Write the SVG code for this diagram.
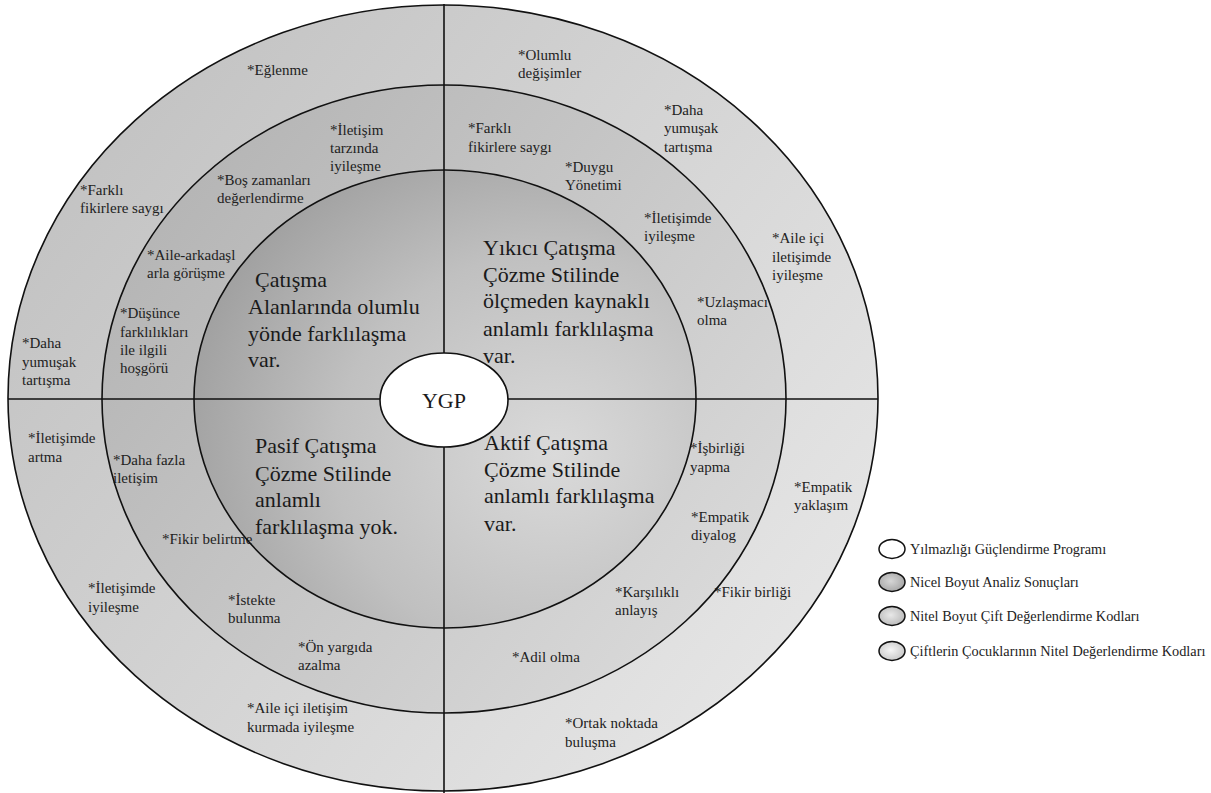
<svg xmlns="http://www.w3.org/2000/svg" width="1211" height="793" viewBox="0 0 1211 793">
<style>
.s{font-family:"Liberation Serif","Times New Roman",serif;font-size:15px;fill:#222}
.b{font-family:"Liberation Serif","Times New Roman",serif;font-size:22px;fill:#1a1a1a}
.lg{font-family:"Liberation Serif","Times New Roman",serif;font-size:14.3px;fill:#222}
.ln{stroke:#111;stroke-width:1.6;fill:none}
</style>
<defs>
<linearGradient id="gOuter" x1="0" y1="0.15" x2="1" y2="0.85">
<stop offset="0" stop-color="#c0c0c0"/><stop offset="1" stop-color="#e8e8e8"/>
</linearGradient>
<linearGradient id="gMid" x1="0" y1="0.15" x2="1" y2="0.85">
<stop offset="0" stop-color="#b2b2b2"/><stop offset="1" stop-color="#dcdcdc"/>
</linearGradient>
<radialGradient id="gInner" cx="0.72" cy="0.62" r="0.8" fx="0.72" fy="0.62">
<stop offset="0" stop-color="#dadada"/><stop offset="0.55" stop-color="#c0c0c0"/><stop offset="1" stop-color="#9c9c9c"/>
</radialGradient>
<radialGradient id="gL2" cx="0.45" cy="0.45" r="0.6"><stop offset="0" stop-color="#d6d6d6"/><stop offset="1" stop-color="#a4a4a4"/></radialGradient>
<radialGradient id="gL3" cx="0.45" cy="0.45" r="0.6"><stop offset="0" stop-color="#e8e8e8"/><stop offset="1" stop-color="#b8b8b8"/></radialGradient>
<radialGradient id="gL4" cx="0.45" cy="0.45" r="0.6"><stop offset="0" stop-color="#f6f6f6"/><stop offset="1" stop-color="#c6c6c6"/></radialGradient>
</defs>

<g id="outer-ring"><ellipse cx="443" cy="398" rx="435" ry="393" fill="url(#gOuter)"/></g>
<g id="middle-ring"><ellipse cx="444" cy="399" rx="342" ry="314" fill="url(#gMid)"/></g>
<g id="inner-disk"><ellipse cx="445" cy="399" rx="251" ry="229" fill="url(#gInner)"/></g>

<g id="labels-top-left">
<text class="s" x="247" y="75">*Eğlenme</text>
<text class="s" x="330" y="135">*İletişim</text>
<text class="s" x="330" y="153">tarzında</text>
<text class="s" x="330" y="171">iyileşme</text>
<text class="s" x="217" y="185">*Boş zamanları</text>
<text class="s" x="217" y="203">değerlendirme</text>
<text class="s" x="80" y="195">*Farklı</text>
<text class="s" x="80" y="213">fikirlere saygı</text>
<text class="s" x="147" y="260">*Aile-arkadaşl</text>
<text class="s" x="147" y="278">arla görüşme</text>
<text class="s" x="120" y="318">*Düşünce</text>
<text class="s" x="120" y="337">farklılıkları</text>
<text class="s" x="120" y="355">ile ilgili</text>
<text class="s" x="120" y="373">hoşgörü</text>
<text class="s" x="22" y="348">*Daha</text>
<text class="s" x="22" y="367">yumuşak</text>
<text class="s" x="22" y="385">tartışma</text>
<text class="b" x="255" y="287">Çatışma</text>
<text class="b" x="248" y="314">Alanlarında olumlu</text>
<text class="b" x="248" y="341">yönde farklılaşma</text>
<text class="b" x="248" y="367">var.</text>
</g>

<g id="labels-top-right">
<text class="s" x="518" y="60">*Olumlu</text>
<text class="s" x="518" y="78">değişimler</text>
<text class="s" x="664" y="115">*Daha</text>
<text class="s" x="664" y="133">yumuşak</text>
<text class="s" x="664" y="152">tartışma</text>
<text class="s" x="468" y="133">*Farklı</text>
<text class="s" x="468" y="152">fikirlere saygı</text>
<text class="s" x="565" y="172">*Duygu</text>
<text class="s" x="565" y="190">Yönetimi</text>
<text class="s" x="644" y="223">*İletişimde</text>
<text class="s" x="644" y="241">iyileşme</text>
<text class="s" x="772" y="243">*Aile içi</text>
<text class="s" x="772" y="262">iletişimde</text>
<text class="s" x="772" y="280">iyileşme</text>
<text class="s" x="697" y="307">*Uzlaşmacı</text>
<text class="s" x="697" y="325">olma</text>
<text class="b" x="483" y="255">Yıkıcı Çatışma</text>
<text class="b" x="483" y="282">Çözme Stilinde</text>
<text class="b" x="483" y="308">ölçmeden kaynaklı</text>
<text class="b" x="483" y="336">anlamlı farklılaşma</text>
<text class="b" x="483" y="363">var.</text>
</g>

<g id="labels-bottom-left">
<text class="s" x="28" y="443">*İletişimde</text>
<text class="s" x="28" y="462">artma</text>
<text class="s" x="113" y="465">*Daha fazla</text>
<text class="s" x="113" y="483">iletişim</text>
<text class="s" x="162" y="544">*Fikir belirtme</text>
<text class="s" x="88" y="593">*İletişimde</text>
<text class="s" x="88" y="612">iyileşme</text>
<text class="s" x="228" y="605">*İstekte</text>
<text class="s" x="228" y="623">bulunma</text>
<text class="s" x="298" y="652">*Ön yargıda</text>
<text class="s" x="298" y="670">azalma</text>
<text class="s" x="247" y="713">*Aile içi iletişim</text>
<text class="s" x="247" y="732">kurmada iyileşme</text>
<text class="b" x="255" y="453">Pasif Çatışma</text>
<text class="b" x="255" y="481">Çözme Stilinde</text>
<text class="b" x="255" y="507">anlamlı</text>
<text class="b" x="255" y="534">farklılaşma yok.</text>
</g>

<g id="labels-bottom-right">
<text class="s" x="690" y="453">*İşbirliği</text>
<text class="s" x="690" y="472">yapma</text>
<text class="s" x="794" y="492">*Empatik</text>
<text class="s" x="794" y="510">yaklaşım</text>
<text class="s" x="691" y="522">*Empatik</text>
<text class="s" x="691" y="540">diyalog</text>
<text class="s" x="615" y="597">*Karşılıklı</text>
<text class="s" x="615" y="615">anlayış</text>
<text class="s" x="714" y="597">*Fikir birliği</text>
<text class="s" x="512" y="662">*Adil olma</text>
<text class="s" x="565" y="728">*Ortak noktada</text>
<text class="s" x="565" y="747">buluşma</text>
<text class="b" x="484" y="450">Aktif Çatışma</text>
<text class="b" x="484" y="477">Çözme Stilinde</text>
<text class="b" x="484" y="503">anlamlı farklılaşma</text>
<text class="b" x="484" y="531">var.</text>
</g>

<g id="connectors">
<ellipse class="ln" cx="443" cy="398" rx="435" ry="393"/>
<ellipse class="ln" cx="444" cy="399" rx="342" ry="314"/>
<ellipse class="ln" cx="445" cy="399" rx="251" ry="229"/>
<line class="ln" x1="444" y1="4" x2="444" y2="793"/>
<line class="ln" x1="8" y1="399" x2="878" y2="399"/>
</g>

<g id="ygp">
<ellipse cx="444" cy="400" rx="64" ry="47" fill="#ffffff" stroke="#111" stroke-width="1.6"/>
<text class="b" x="444" y="408" text-anchor="middle">YGP</text>
</g>

<g id="legend">
<g id="legend-1"><ellipse cx="892" cy="549" rx="13" ry="9.5" fill="#ffffff" stroke="#111" stroke-width="1.5"/><text class="lg" x="910" y="554">Yılmazlığı Güçlendirme  Programı</text></g>
<g id="legend-2"><ellipse cx="892" cy="582" rx="13" ry="9.5" fill="url(#gL2)" stroke="#111" stroke-width="1.5"/><text class="lg" x="910" y="587">Nicel Boyut Analiz Sonuçları</text></g>
<g id="legend-3"><ellipse cx="892" cy="616" rx="13" ry="9.5" fill="url(#gL3)" stroke="#111" stroke-width="1.5"/><text class="lg" x="910" y="621">Nitel Boyut Çift Değerlendirme Kodları</text></g>
<g id="legend-4"><ellipse cx="892" cy="651" rx="13" ry="9.5" fill="url(#gL4)" stroke="#111" stroke-width="1.5"/><text class="lg" x="910" y="656">Çiftlerin Çocuklarının Nitel Değerlendirme Kodları</text></g>
</g>
</svg>
